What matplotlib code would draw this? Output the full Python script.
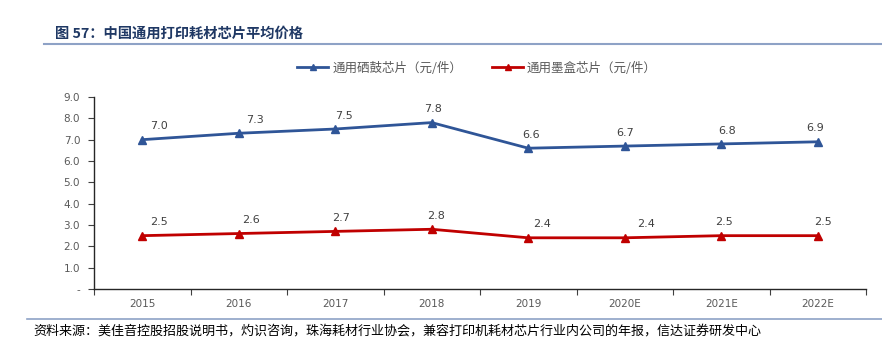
import matplotlib
matplotlib.use('Agg')
from matplotlib import pyplot as plt
from matplotlib.lines import Line2D

plt.rcParams['font.family'] = ['Noto Sans CJK SC', 'DejaVu Sans']

years = ['2015', '2016', '2017', '2018', '2019', '2020E', '2021E', '2022E']
toner_chip = [7.0, 7.3, 7.5, 7.8, 6.6, 6.7, 6.8, 6.9]
ink_chip = [2.5, 2.6, 2.7, 2.8, 2.4, 2.4, 2.5, 2.5]
toner_name = '通用硒鼓芯片（元/件）'
ink_name = '通用墨盒芯片（元/件）'
yticks = [0, 1, 2, 3, 4, 5, 6, 7, 8, 9]
ytick_labels = ['-', '1.0', '2.0', '3.0', '4.0', '5.0', '6.0', '7.0', '8.0', '9.0']

title = '图 57：中国通用打印耗材芯片平均价格'
source = '资料来源：美佳音控股招股说明书，灼识咨询，珠海耗材行业协会，兼容打印机耗材芯片行业内公司的年报，信达证券研发中心'

col_blue = '#2F5597'
col_red = '#C00000'
col_grey = '#595959'
col_title = '#1F3864'
col_rule = '#8EA2C6'

# label offsets (points), roughly like the excel placement
blue_dx = [12, 12, 6, 1, 2, 0, 4, -2]
red_dx = [12, 9, 4, 3, 10, 15, 2, 4]

fig = plt.figure(figsize=(8.82, 3.46), dpi=100)
ax = fig.add_axes([94 / 882, 1 - 289 / 346, 772 / 882, 192 / 346])

x = list(range(len(years)))
ax.plot(x, toner_chip, color=col_blue, lw=2, marker='^', ms=6)
ax.plot(x, ink_chip, color=col_red, lw=2, marker='^', ms=6)

for i in x:
    ax.annotate(f'{toner_chip[i]:.1f}', (i, toner_chip[i]), xytext=(blue_dx[i], 6),
                textcoords='offset points', ha='center', va='bottom',
                fontsize=8, color='#404040', family='DejaVu Sans')
    ax.annotate(f'{ink_chip[i]:.1f}', (i, ink_chip[i]), xytext=(red_dx[i], 6),
                textcoords='offset points', ha='center', va='bottom',
                fontsize=8, color='#404040', family='DejaVu Sans')

ax.set_xlim(-0.5, len(years) - 0.5)
ax.set_ylim(0, 9)
ax.set_yticks(yticks)
ax.set_yticklabels(ytick_labels, fontsize=7.5, color=col_grey, family='DejaVu Sans')
ax.set_xticks([i - 0.5 for i in range(len(years) + 1)])
ax.set_xticklabels([])
ax.set_xticks(x, minor=True)
ax.set_xticklabels(years, minor=True, fontsize=7.5, color=col_grey, family='DejaVu Sans')
ax.tick_params(axis='x', which='minor', length=0, pad=7)
ax.tick_params(axis='x', which='major', length=4, width=0.8, color='#404040')
ax.tick_params(axis='y', length=4, width=0.8, color='#404040', pad=6)
for s in ['top', 'right']:
    ax.spines[s].set_visible(False)
for s in ['left', 'bottom']:
    ax.spines[s].set_color('#262626')
    ax.spines[s].set_linewidth(1.0)

handles = [Line2D([], [], color=col_blue, lw=2, marker='^', ms=4),
           Line2D([], [], color=col_red, lw=2, marker='^', ms=4)]
fig.legend(handles, [toner_name, ink_name], loc='center', bbox_to_anchor=(477 / 882, 1 - 68 / 346),
           ncol=2, frameon=False, fontsize=9, handlelength=2.5, handletextpad=0.3,
           columnspacing=2.4, labelcolor=col_grey)

fig.text(55 / 882, 1 - 34 / 346, title, fontsize=10.3, fontweight='bold', color=col_title,
         va='center', ha='left')
fig.add_artist(Line2D([44 / 882, 1], [1 - 44 / 346] * 2, color=col_rule, lw=1.5))
fig.add_artist(Line2D([27 / 882, 1], [1 - 319 / 346] * 2, color=col_rule, lw=1.2))
fig.text(33 / 882, 1 - 331 / 346, source, fontsize=9.4, color='#000000', va='center', ha='left',
         style='italic')

fig.savefig('out.png', dpi=100)
